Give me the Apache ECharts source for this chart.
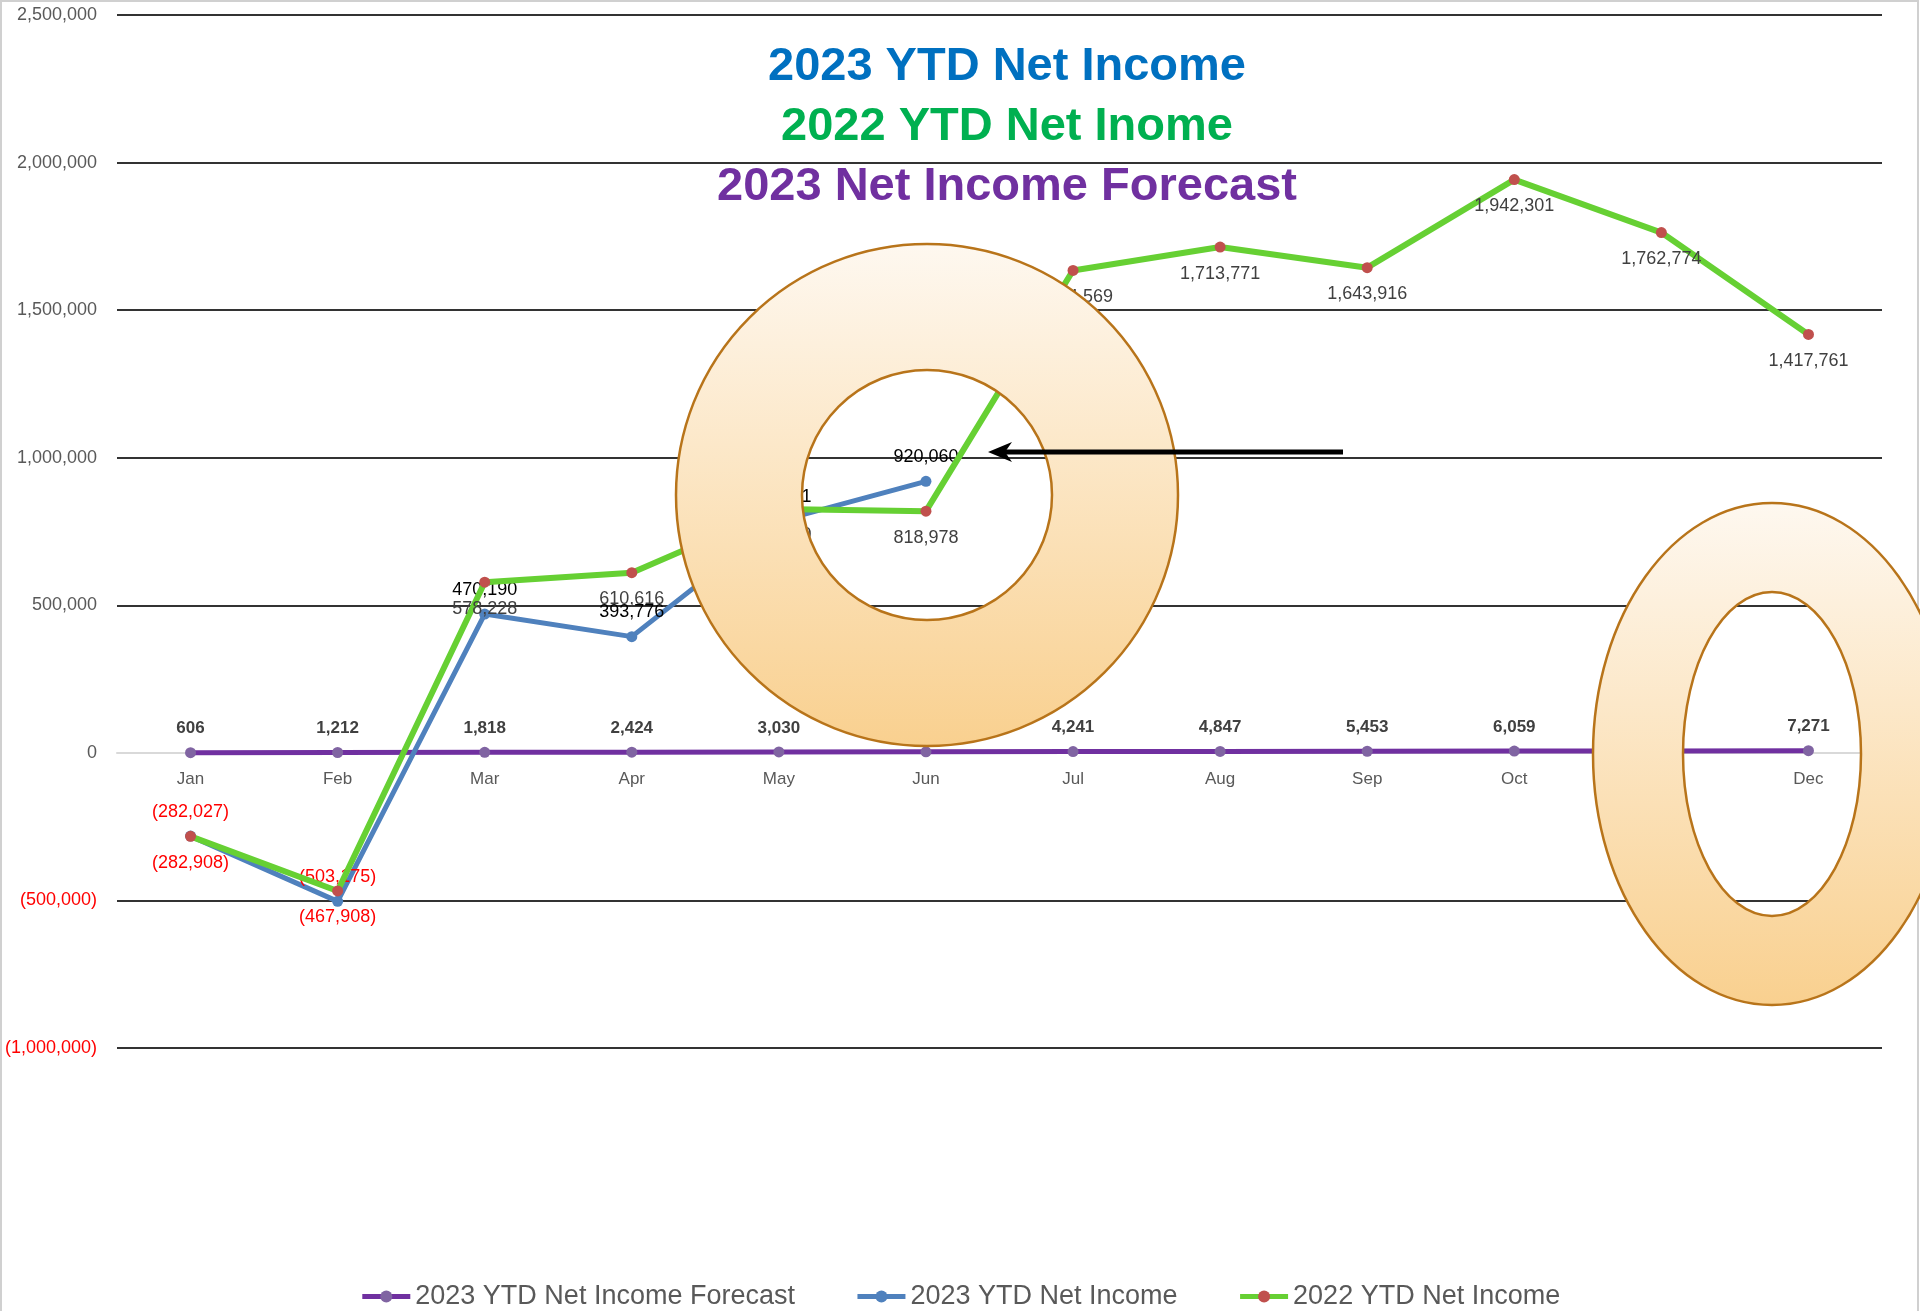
<!DOCTYPE html>
<html>
<head>
<meta charset="utf-8">
<script src="https://cdn.jsdelivr.net/npm/echarts@6/dist/echarts.min.js"></script>
<style>
  html, body { margin: 0; padding: 0; background: #fff; }
  #chart { width: 1920px; height: 1311px; }
</style>
</head>
<body>
<div id="chart"></div>
<script>
// months on the category axis
const months = ['Jan', 'Feb', 'Mar', 'Apr', 'May', 'Jun', 'Jul', 'Aug', 'Sep', 'Oct', 'Nov', 'Dec'];

// series values
const forecast2023 = [606, 1212, 1818, 2424, 3030, 3636, 4241, 4847, 5453, 6059, 6665, 7271];
const ytd2023 = [-282027, -503175, 470190, 393776, 785421, 920060, null, null, null, null, null, null];
const ytd2022 = [-282908, -467908, 578228, 610616, 826130, 818978, 1634569, 1713771, 1643916, 1942301, 1762774, 1417761];

// value axis range
const yMin = -1000000;
const yMax = 2500000;
const yStep = 500000;

// heading lines and their colours
const headings = ['2023 YTD Net Income', '2022 YTD Net Inome', '2023 Net Income Forecast'];
const headingColors = ['#0070c0', '#00b050', '#7030a0'];

const seriesNames = ['2023 YTD Net Income Forecast', '2023 YTD Net Income', '2022 YTD Net Income'];

const FONT = '"Liberation Sans", Arial, sans-serif';

// grid box
const gridTop = 15, gridBottom = 263;
const gridHeight = 1311 - gridTop - gridBottom;

// 1,234 or (1,234) for negatives
const fmt = v => {
    const s = Math.abs(v).toLocaleString('en-US');
    return v < 0 ? '(' + s + ')' : s;
};

// per-point label colour: negatives are red
const withLabels = (arr, color) => arr.map(v => v == null ? null : {
    value: v,
    label: { color: v < 0 ? '#ff0000' : color }
});

// elliptical ring shape (outer clockwise, inner the other way so it stays hollow)
const K = 0.5522848;
function ellipsePath(ctx, cx, cy, rx, ry, ccw) {
    const ox = rx * K, oy = ry * K;
    ctx.moveTo(cx - rx, cy);
    if (!ccw) {
        ctx.bezierCurveTo(cx - rx, cy - oy, cx - ox, cy - ry, cx, cy - ry);
        ctx.bezierCurveTo(cx + ox, cy - ry, cx + rx, cy - oy, cx + rx, cy);
        ctx.bezierCurveTo(cx + rx, cy + oy, cx + ox, cy + ry, cx, cy + ry);
        ctx.bezierCurveTo(cx - ox, cy + ry, cx - rx, cy + oy, cx - rx, cy);
    } else {
        ctx.bezierCurveTo(cx - rx, cy + oy, cx - ox, cy + ry, cx, cy + ry);
        ctx.bezierCurveTo(cx + ox, cy + ry, cx + rx, cy + oy, cx + rx, cy);
        ctx.bezierCurveTo(cx + rx, cy - oy, cx + ox, cy - ry, cx, cy - ry);
        ctx.bezierCurveTo(cx - ox, cy - ry, cx - rx, cy - oy, cx - rx, cy);
    }
    ctx.closePath();
}
const EllipseRing = echarts.graphic.extendShape({
    shape: { cx: 0, cy: 0, rx: 0, ry: 0, rx0: 0, ry0: 0 },
    buildPath: function (ctx, s) {
        ellipsePath(ctx, s.cx, s.cy, s.rx, s.ry, false);
        ellipsePath(ctx, s.cx, s.cy, s.rx0, s.ry0, true);
    }
});
echarts.graphic.registerShape('ellipseRing', EllipseRing);

const chart = echarts.init(document.getElementById('chart'));

// orange donut fill
const ringFill = () => ({
    type: 'linear', x: 0, y: 0, x2: 0, y2: 1,
    colorStops: [{ offset: 0, color: '#fef8f0' }, { offset: 1, color: '#f9d08f' }]
});

let option = {
    backgroundColor: '#fff',
    animation: false,
    grid: { left: 117, right: 38, top: gridTop, bottom: gridBottom },
    legend: {
        top: 1278,
        left: 'center',
        itemGap: 60,
        itemWidth: 48,
        itemHeight: 15,
        lineStyle: { width: 5 },
        textStyle: { color: '#595959', fontSize: 27, fontFamily: FONT },
        data: seriesNames
    },
    xAxis: {
        type: 'category',
        data: months,
        boundaryGap: true,
        // sit the month axis on the zero line
        offset: -gridHeight * (0 - yMin) / (yMax - yMin),
        axisLine: { onZero: false, lineStyle: { color: '#d9d9d9', width: 2 } },
        axisTick: { show: false },
        axisLabel: { color: '#595959', fontSize: 17, fontFamily: FONT, margin: 18 }
    },
    yAxis: {
        type: 'value',
        min: yMin,
        max: yMax,
        interval: yStep,
        axisLine: { show: false },
        axisTick: { show: false },
        axisLabel: {
            fontSize: 18,
            fontFamily: FONT,
            margin: 20,
            formatter: v => v < 0 ? '{neg|' + fmt(v) + '}' : fmt(v),
            color: '#595959',
            rich: { neg: { color: '#ff0000', fontSize: 18, fontFamily: FONT } }
        },
        splitLine: {
            lineStyle: {
                // the zero line is the pale category axis
                color: ['#333', '#333', '#d9d9d9', '#333', '#333', '#333', '#333', '#333'],
                width: 2
            }
        }
    },
    series: [
        {
            name: seriesNames[0],
            type: 'line',
            data: forecast2023,
            symbol: 'circle',
            symbolSize: 11,
            lineStyle: { color: '#7030a0', width: 5 },
            itemStyle: { color: '#8064a2' },
            label: {
                show: true, position: 'top', distance: 10,
                formatter: p => fmt(p.value),
                color: '#404040', fontWeight: 'bold', fontSize: 17, fontFamily: FONT
            },
            z: 2
        },
        {
            name: seriesNames[1],
            type: 'line',
            data: withLabels(ytd2023, '#000'),
            symbol: 'circle',
            symbolSize: 11,
            lineStyle: { color: '#4f81bd', width: 5 },
            itemStyle: { color: '#4f81bd' },
            label: {
                show: true, position: 'top', distance: 10,
                formatter: p => fmt(p.value),
                fontSize: 18, fontFamily: FONT
            },
            z: 3
        },
        {
            name: seriesNames[2],
            type: 'line',
            data: withLabels(ytd2022, '#404040'),
            symbol: 'circle',
            symbolSize: 11,
            lineStyle: { color: '#66d033', width: 6 },
            itemStyle: { color: '#c0504d' },
            label: {
                show: true, position: 'bottom', distance: 12,
                formatter: p => fmt(p.value),
                fontSize: 18, fontFamily: FONT
            },
            z: 4
        }
    ],
    graphic: [
        // chart frame
        {
            type: 'rect', z: 1, silent: true,
            shape: { x: 1, y: 1, width: 1917, height: 1340 },
            style: { fill: 'none', stroke: '#d0d0d0', lineWidth: 2 }
        },
        // round donut over Jun
        {
            type: 'ring', z: 100,
            shape: { cx: 927, cy: 495, r: 251, r0: 125 },
            style: { fill: ringFill(), stroke: '#b8741a', lineWidth: 2.5 }
        },
        // tall donut over Nov
        {
            type: 'ellipseRing', z: 100,
            shape: { cx: 1772, cy: 754, rx: 179, ry: 251, rx0: 89, ry0: 162 },
            style: { fill: ringFill(), stroke: '#b8741a', lineWidth: 2.5 }
        },
        // arrow pointing at Jun
        {
            type: 'line', z: 101,
            shape: { x1: 1343, y1: 452, x2: 1000, y2: 452 },
            style: { stroke: '#000', lineWidth: 5 }
        },
        {
            type: 'polygon', z: 101,
            shape: { points: [[988, 452], [1012, 442], [1005, 452], [1012, 462]] },
            style: { fill: '#000' }
        }
    ].concat(headings.map((t, i) => ({
        type: 'text', z: 50,
        x: 1007, y: 67 + i * 60,
        style: {
            text: t,
            fill: headingColors[i],
            font: 'bold 47px ' + FONT,
            textAlign: 'center',
            textVerticalAlign: 'middle'
        }
    })))
};

chart.setOption(option);
</script>
</body>
</html>
